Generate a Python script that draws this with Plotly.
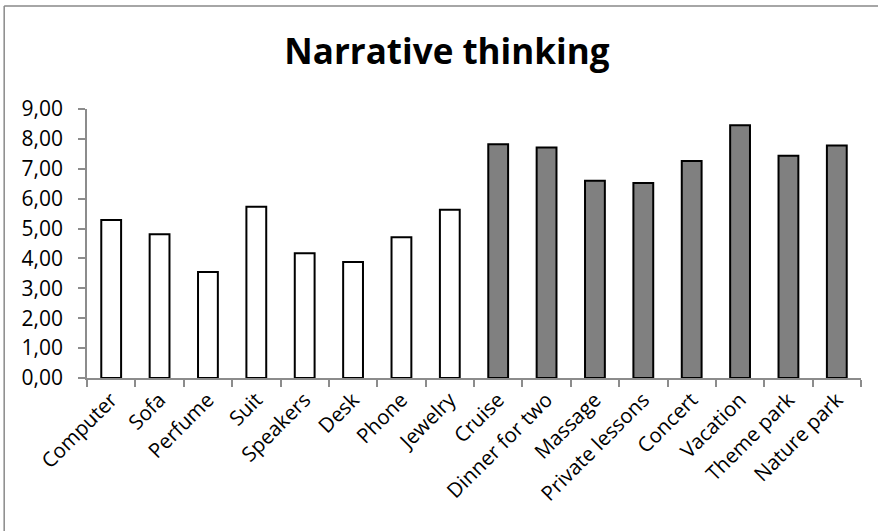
import plotly.graph_objects as go

categories = ["Computer", "Sofa", "Perfume", "Suit", "Speakers", "Desk", "Phone", "Jewelry",
              "Cruise", "Dinner for two", "Massage", "Private lessons", "Concert", "Vacation",
              "Theme park", "Nature park"]
values = [5.29, 4.81, 3.55, 5.73, 4.17, 3.88, 4.71, 5.63,
          7.82, 7.71, 6.60, 6.52, 7.26, 8.46, 7.44, 7.78]
groups = ["material"] * 8 + ["experiential"] * 8
group_colors = {"material": "#FFFFFF", "experiential": "#808080"}
y_ticks = [0, 1, 2, 3, 4, 5, 6, 7, 8, 9]

FONT = "Open Sans"

fig = go.Figure(go.Bar(
    x=categories,
    y=values,
    marker=dict(color=[group_colors[g] for g in groups],
                line=dict(color="#000000", width=2)),
    showlegend=False,
))

border = dict(color="#898989", width=1.5)
fig.update_layout(
    width=878, height=531,
    paper_bgcolor="white", plot_bgcolor="white",
    margin=dict(l=87, r=17, t=109, b=153, autoexpand=False),
    bargap=0.59,
    separators=",.",
    font=dict(family=FONT, color="#000000"),
    title=dict(text="<b>Narrative thinking</b>", x=0.509, xanchor="center",
               y=0.902, yanchor="middle",
               font=dict(family=FONT, size=35, color="#000000")),
    shapes=[
        dict(type="line", xref="paper", yref="paper", x0=-0.107, x1=1.2,
             y0=1.383, y1=1.383, line=border, layer="below"),
        dict(type="line", xref="paper", yref="paper", x0=-0.107, x1=-0.107,
             y0=-0.8, y1=1.383, line=border, layer="below"),
    ],
)

fig.update_xaxes(
    type="category",
    showline=True, linecolor="#8C8C8C", linewidth=1.5,
    ticks="outside", tickson="boundaries", ticklen=7, tickcolor="#8C8C8C", tickwidth=1.5,
    tickangle=-45, tickfont=dict(family=FONT, size=20.5, color="#000000"),
    showgrid=False, zeroline=False,
)
fig.update_yaxes(
    range=[0, 9], tickvals=y_ticks, tickformat=".2f",
    showline=True, linecolor="#8C8C8C", linewidth=1.5,
    ticks="outside", ticklen=7, tickcolor="#8C8C8C", tickwidth=1.5,
    ticklabelstandoff=11,
    tickfont=dict(family=FONT, size=21, color="#000000"),
    showgrid=False, zeroline=False,
)

fig.write_html(
    "out.html", config={"displayModeBar": False},
    post_script=("document.body.style.margin='0';"
                 "document.body.style.overflow='hidden';"
                 "document.documentElement.style.overflow='hidden';"),
)
